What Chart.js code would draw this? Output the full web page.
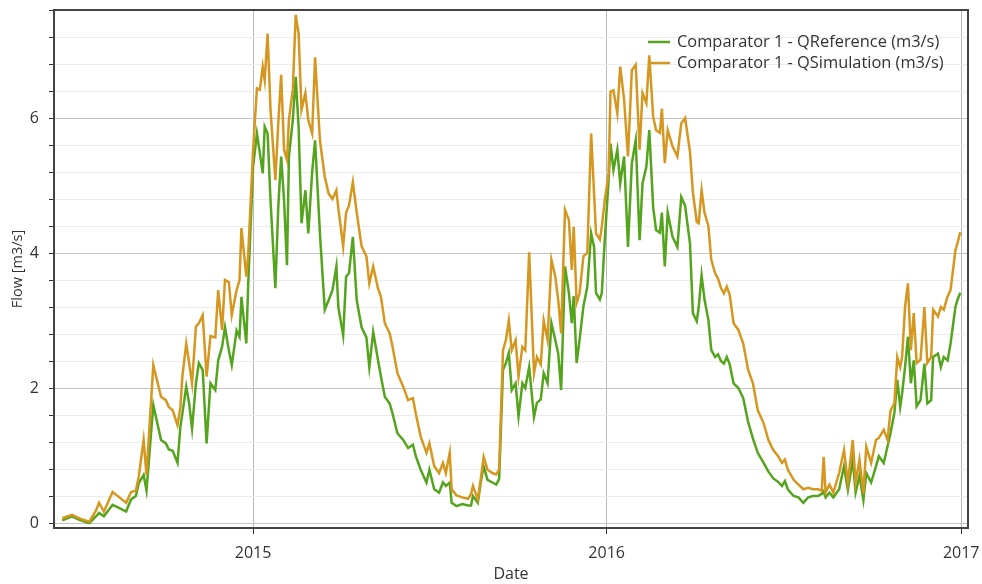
<!DOCTYPE html>
<html>
<head>
<meta charset="utf-8">
<title>Comparator 1 - Flow</title>
<script src="https://cdn.jsdelivr.net/npm/chart.js@4.4.1/dist/chart.umd.min.js"></script>
<style>
  html, body { margin: 0; padding: 0; background: #ffffff; }
  #wrap { width: 982px; height: 584px; }
</style>
</head>
<body>
<div id="wrap"><canvas id="flowChart" width="982" height="584"></canvas></div>
<script>
// Sample dates, as day offsets from 2015-01-01
const days = [
  -197, -187, -178, -169, -162, -159, -154, -145, -138, -131, -126, -121, -118, -113, -110,
  -103, -95, -90, -87, -83, -78, -75, -73, -69, -66, -63, -59, -56, -52, -48, -44,
  -39, -36, -32, -29, -25, -22, -17, -14, -12, -7, -5,
  0, 4, 7, 10, 12, 15, 18, 23, 26, 29, 32, 35, 37, 41, 44, 47, 50, 54, 57, 61, 64,
  69, 74, 78, 82, 86, 88, 93, 96, 99, 103, 107, 112, 117,
  120, 124, 129, 132, 136, 141, 144, 149, 155, 160, 165, 168, 173, 179, 182, 187, 192,
  196, 199, 203, 205, 210, 216, 222, 225, 227, 232, 235, 238, 242, 247, 251, 254,
  258, 261, 264, 267, 271, 274, 278,
  281, 285, 290, 293, 297, 300, 304, 308, 312, 315, 318, 322, 326, 329, 331, 334, 337,
  341, 345, 349, 352, 354, 358, 360, 363,
  367, 369, 372, 376, 379, 383, 387, 391, 395, 399, 402, 406, 409, 413, 416, 420, 422,
  425, 428, 433, 438, 442,
  446, 451, 454, 458, 460, 463, 466, 470, 473, 477, 480, 483, 486, 489, 492, 496, 501,
  506, 511, 516, 521, 527, 532, 537, 542, 546, 549, 552, 558, 563, 568, 573, 578, 583,
  587, 589, 591, 595, 599,
  605, 610, 614, 619, 622, 626, 630, 633, 638, 643, 646, 651, 655, 658, 662, 665, 668,
  670, 673, 676, 679, 682, 685, 689, 693, 696, 700, 702, 707, 710, 713, 717, 720, 725,
  727, 730
];

// Comparator 1 - QReference (m3/s)
const qReference = [
  0.04, 0.10, 0.04, 0.00, 0.10, 0.15, 0.10, 0.27, 0.22, 0.17, 0.35, 0.40, 0.59, 0.71, 0.48,
  1.75, 1.23, 1.18, 1.09, 1.07, 0.89, 1.43, 1.62, 2.02, 1.77, 1.40, 2.07, 2.37, 2.27, 1.18, 2.07,
  1.97, 2.41, 2.61, 2.90, 2.56, 2.34, 2.85, 2.76, 3.35, 2.66, 3.55,
  5.28, 5.77, 5.48, 5.18, 5.87, 5.77, 4.78, 3.48, 4.68, 5.43, 4.78, 3.82, 5.43, 5.97, 6.61, 5.87, 4.44, 4.93, 4.29, 5.20, 5.67,
  4.29, 3.16, 3.30, 3.45, 3.80, 3.20, 2.78, 3.65, 3.70, 4.24, 3.30, 2.90, 2.75,
  2.31, 2.83, 2.41, 2.17, 1.87, 1.77, 1.62, 1.33, 1.23, 1.11, 1.16, 0.99, 0.79, 0.60, 0.79, 0.50, 0.45,
  0.60, 0.55, 0.60, 0.30, 0.25, 0.28, 0.26, 0.26, 0.40, 0.30, 0.60, 0.84, 0.64, 0.60, 0.57, 0.65,
  2.27, 2.37, 2.52, 1.97, 2.07, 1.58, 2.07,
  2.00, 2.31, 1.57, 1.78, 1.83, 2.22, 2.07, 2.96, 2.71, 2.51, 1.97, 3.80, 3.41, 2.96, 3.36, 2.37, 2.71,
  3.21, 3.50, 4.29, 4.09, 3.41, 3.31, 3.41, 4.19,
  5.08, 5.62, 5.23, 5.53, 5.03, 5.43, 4.09, 5.33, 5.67, 4.19, 5.03, 5.28, 5.82, 4.68, 4.34, 4.30, 4.60,
  3.80, 4.60, 4.24, 4.09, 4.83,
  4.70, 4.14, 3.11, 2.99, 3.20, 3.67, 3.31, 3.01, 2.56, 2.46, 2.50, 2.40, 2.36, 2.46, 2.35, 2.07, 2.00,
  1.85, 1.50, 1.25, 1.04, 0.89, 0.76, 0.66, 0.61, 0.55, 0.62, 0.50, 0.40, 0.38, 0.30, 0.38, 0.40, 0.40,
  0.43, 0.47, 0.38, 0.45, 0.38,
  0.50, 0.84, 0.49, 0.94, 0.45, 0.70, 0.34, 0.74, 0.60, 0.84, 0.99, 0.89, 1.14, 1.33, 1.63, 2.12, 1.72,
  1.92, 2.31, 2.76, 2.07, 2.41, 1.73, 1.82, 2.36, 1.77, 1.82, 2.46, 2.51, 2.31, 2.46, 2.41, 2.66, 3.20,
  3.30, 3.41
];

// Comparator 1 - QSimulation (m3/s)
const qSimulation = [
  0.07, 0.12, 0.06, 0.02, 0.19, 0.30, 0.17, 0.46, 0.38, 0.30, 0.46, 0.48, 0.69, 1.23, 0.71,
  2.34, 1.87, 1.82, 1.72, 1.67, 1.45, 1.72, 2.17, 2.66, 2.37, 2.07, 2.91, 2.96, 3.08, 2.17, 2.77,
  2.75, 3.45, 2.86, 3.60, 3.57, 3.08, 3.45, 3.60, 4.37, 3.65, 3.98,
  5.53, 6.44, 6.42, 6.76, 6.56, 7.25, 6.12, 5.08, 5.92, 6.64, 5.53, 5.38, 5.97, 6.42, 7.53, 7.25, 6.12, 6.37, 5.97, 5.77, 6.90,
  5.67, 5.13, 4.88, 4.80, 4.93, 4.66, 4.10, 4.60, 4.70, 5.05, 4.60, 4.10, 3.95,
  3.55, 3.80, 3.47, 3.35, 2.96, 2.81, 2.61, 2.22, 2.02, 1.82, 1.85, 1.62, 1.28, 1.04, 1.18, 0.84, 0.74,
  0.89, 0.74, 1.04, 0.50, 0.41, 0.38, 0.36, 0.43, 0.55, 0.35, 0.65, 0.98, 0.79, 0.74, 0.72, 0.79,
  2.56, 2.71, 3.00, 2.56, 2.71, 2.17, 2.61,
  2.56, 4.01, 2.22, 2.46, 2.35, 3.00, 2.71, 3.90, 3.65, 3.30, 2.81, 4.64, 4.49, 3.75, 4.39, 3.26, 3.40,
  3.95, 4.00, 5.77, 4.88, 4.29, 4.20, 4.39, 4.78,
  5.18, 6.39, 6.41, 6.07, 6.76, 6.27, 5.43, 6.71, 6.79, 5.53, 6.37, 6.22, 6.93, 6.02, 5.82, 5.78, 6.14,
  5.33, 5.82, 5.58, 5.43, 5.92,
  6.00, 5.50, 4.90, 4.46, 4.44, 4.93, 4.60, 4.40, 3.90, 3.70, 3.62, 3.48, 3.40, 3.50, 3.38, 2.96, 2.86,
  2.66, 2.27, 2.07, 1.67, 1.48, 1.23, 1.08, 0.99, 0.89, 0.94, 0.79, 0.64, 0.57, 0.50, 0.52, 0.50, 0.50,
  0.48, 0.98, 0.45, 0.57, 0.45,
  0.74, 1.08, 0.60, 1.23, 0.60, 0.94, 0.44, 1.13, 0.89, 1.23, 1.26, 1.38, 1.23, 1.67, 1.77, 2.46, 2.31,
  2.46, 3.20, 3.55, 2.56, 3.11, 2.37, 2.42, 3.20, 2.37, 2.46, 3.16, 3.06, 3.20, 3.16, 3.36, 3.45, 4.04,
  4.14, 4.31
];

// Axis ticks
const yearTickDays = [0, 365, 731];
const yearTickLabels = ['2015', '2016', '2017'];
const flowGridValues = [0, 0.4, 0.8, 1.2, 1.6, 2, 2.4, 2.8, 3.2, 3.6, 4, 4.4, 4.8, 5.2, 5.6, 6, 6.4, 6.8, 7.2, 7.6];
const flowLabelValues = [0, 2, 4, 6];

const seriesLabels = ['Comparator 1 - QReference (m3/s)', 'Comparator 1 - QSimulation (m3/s)'];
const GREEN = '#55a41d';
const ORANGE = '#d5971f';
const FONT = '"Open Sans", "Noto Sans", sans-serif';
const TEXT = '#333333';

function points(values) {
  return days.map((d, i) => ({ x: d, y: values[i] }));
}

// Closes the plot frame on the top and right sides
const frameBox = {
  id: 'frameBox',
  afterDraw(chart) {
    const { ctx, chartArea: a } = chart;
    ctx.save();
    ctx.strokeStyle = '#444444';
    ctx.lineWidth = 2;
    ctx.beginPath();
    ctx.moveTo(a.left, a.top);
    ctx.lineTo(a.right, a.top);
    ctx.lineTo(a.right, a.bottom);
    ctx.stroke();
    ctx.restore();
  }
};

// Series key drawn inside the plot, top right
const insideLegend = {
  id: 'insideLegend',
  afterDraw(chart) {
    const { ctx, chartArea: a } = chart;
    ctx.save();
    ctx.font = '16.4px ' + FONT;
    ctx.textBaseline = 'middle';
    ctx.textAlign = 'left';
    chart.data.datasets.forEach((ds, i) => {
      const y = a.top + 32 + i * 21;
      ctx.strokeStyle = ds.borderColor;
      ctx.lineWidth = 2.5;
      ctx.beginPath();
      ctx.moveTo(a.right - 320, y);
      ctx.lineTo(a.right - 298, y);
      ctx.stroke();
      ctx.fillStyle = TEXT;
      ctx.fillText(ds.label, a.right - 291, y);
    });
    ctx.restore();
  }
};

new Chart(document.getElementById('flowChart'), {
  type: 'line',
  data: {
    datasets: [
      {
        label: seriesLabels[0],
        data: points(qReference),
        borderColor: GREEN,
        backgroundColor: GREEN,
        borderWidth: 2.5,
        pointRadius: 0,
        tension: 0,
        order: 2
      },
      {
        label: seriesLabels[1],
        data: points(qSimulation),
        borderColor: ORANGE,
        backgroundColor: ORANGE,
        borderWidth: 2.5,
        pointRadius: 0,
        tension: 0,
        order: 1
      }
    ]
  },
  options: {
    responsive: false,
    animation: false,
    layout: { padding: { top: 10, right: 14, left: 0, bottom: 0 } },
    plugins: {
      legend: { display: false },
      tooltip: { enabled: false }
    },
    scales: {
      x: {
        type: 'linear',
        min: -205.5,
        max: 738,
        afterBuildTicks: (scale) => { scale.ticks = yearTickDays.map(v => ({ value: v })); },
        afterFit: (scale) => {
          scale.height = 56;
          scale.paddingLeft = 0;
          scale.paddingRight = 0;
        },
        ticks: {
          autoSkip: false,
          maxRotation: 0,
          padding: 10,
          color: TEXT,
          font: { family: FONT, size: 16 },
          callback: (value) => yearTickLabels[yearTickDays.indexOf(value)]
        },
        grid: { color: '#b8b8b8', lineWidth: 1, tickColor: '#333333', tickLength: 6 },
        border: { color: '#444444', width: 2 },
        title: {
          display: true,
          text: 'Date',
          color: TEXT,
          font: { family: FONT, size: 16 },
          padding: { top: 0, bottom: 0 }
        }
      },
      y: {
        min: -0.074,
        max: 7.6,
        afterBuildTicks: (scale) => { scale.ticks = flowGridValues.map(v => ({ value: v })); },
        afterFit: (scale) => {
          scale.width = 54;
          scale.paddingTop = 0;
          scale.paddingBottom = 0;
        },
        ticks: {
          autoSkip: false,
          padding: 10,
          color: TEXT,
          font: { family: FONT, size: 16 },
          callback: (value) => flowLabelValues.includes(value) ? String(value) : ''
        },
        grid: {
          color: (ctx) => (ctx.tick && flowLabelValues.includes(ctx.tick.value)) ? '#c4c4c4' : '#ececec',
          lineWidth: 1,
          tickColor: '#333333',
          tickLength: 5
        },
        border: { color: '#444444', width: 2 },
        title: {
          display: true,
          text: 'Flow [m3/s]',
          color: TEXT,
          font: { family: FONT, size: 14.5 },
          padding: { top: 9, bottom: 0 }
        }
      }
    }
  },
  plugins: [frameBox, insideLegend]
});
</script>
</body>
</html>
